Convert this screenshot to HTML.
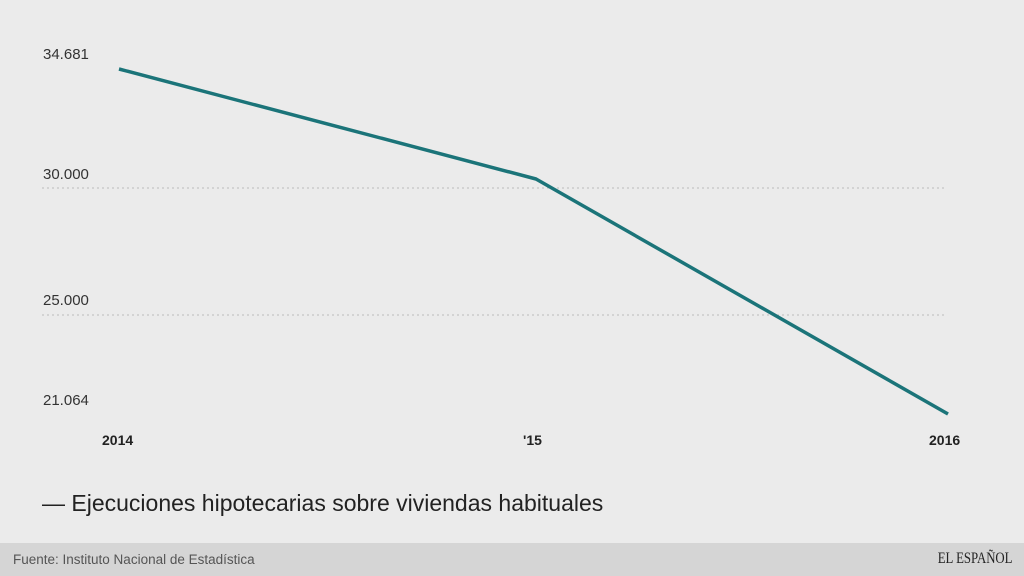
<!DOCTYPE html>
<html><head><meta charset="utf-8"><style>
body{margin:0;width:1024px;height:576px;background:#ebebeb;position:relative;overflow:hidden;font-family:"Liberation Sans",sans-serif}
.t{position:absolute;color:#333;font-size:15px}
.x{position:absolute;font-weight:bold;font-size:14px;color:#222;top:432px}
.f{position:absolute;left:0;top:543px;width:1024px;height:33px;background:#d5d5d5}
</style></head><body>
<svg width="1024" height="576" style="position:absolute;left:0;top:0">
<line x1="42" y1="188" x2="945" y2="188" stroke="#bbb" stroke-dasharray="2,3"/>
<line x1="42" y1="315" x2="945" y2="315" stroke="#bbb" stroke-dasharray="2,3"/>
<polyline points="119,69 536,179 948,414" fill="none" stroke="#1b7479" stroke-width="3.5" stroke-linejoin="round"/>
</svg>
<div class="t" style="left:43px;top:46px">34.681</div>
<div class="t" style="left:43px;top:166px">30.000</div>
<div class="t" style="left:43px;top:292px">25.000</div>
<div class="t" style="left:43px;top:392px">21.064</div>
<div class="x" style="left:102px">2014</div>
<div class="x" style="left:523px">'15</div>
<div class="x" style="left:929px">2016</div>
<div style="position:absolute;left:42px;top:490px;font-family:'Liberation Sans Narrow','Liberation Sans',sans-serif;font-size:23px;color:#222">— Ejecuciones hipotecarias sobre viviendas habituales</div>
<div class="f"></div>
<div style="position:absolute;left:13px;top:552px;font-size:13.5px;color:#555">Fuente: Instituto Nacional de Estadística</div>
<div style="position:absolute;right:12px;top:550px;font-family:'Liberation Serif',serif;font-size:16px;color:#222;transform:scaleX(0.8);transform-origin:right">EL ESPAÑOL</div>
</body></html>
